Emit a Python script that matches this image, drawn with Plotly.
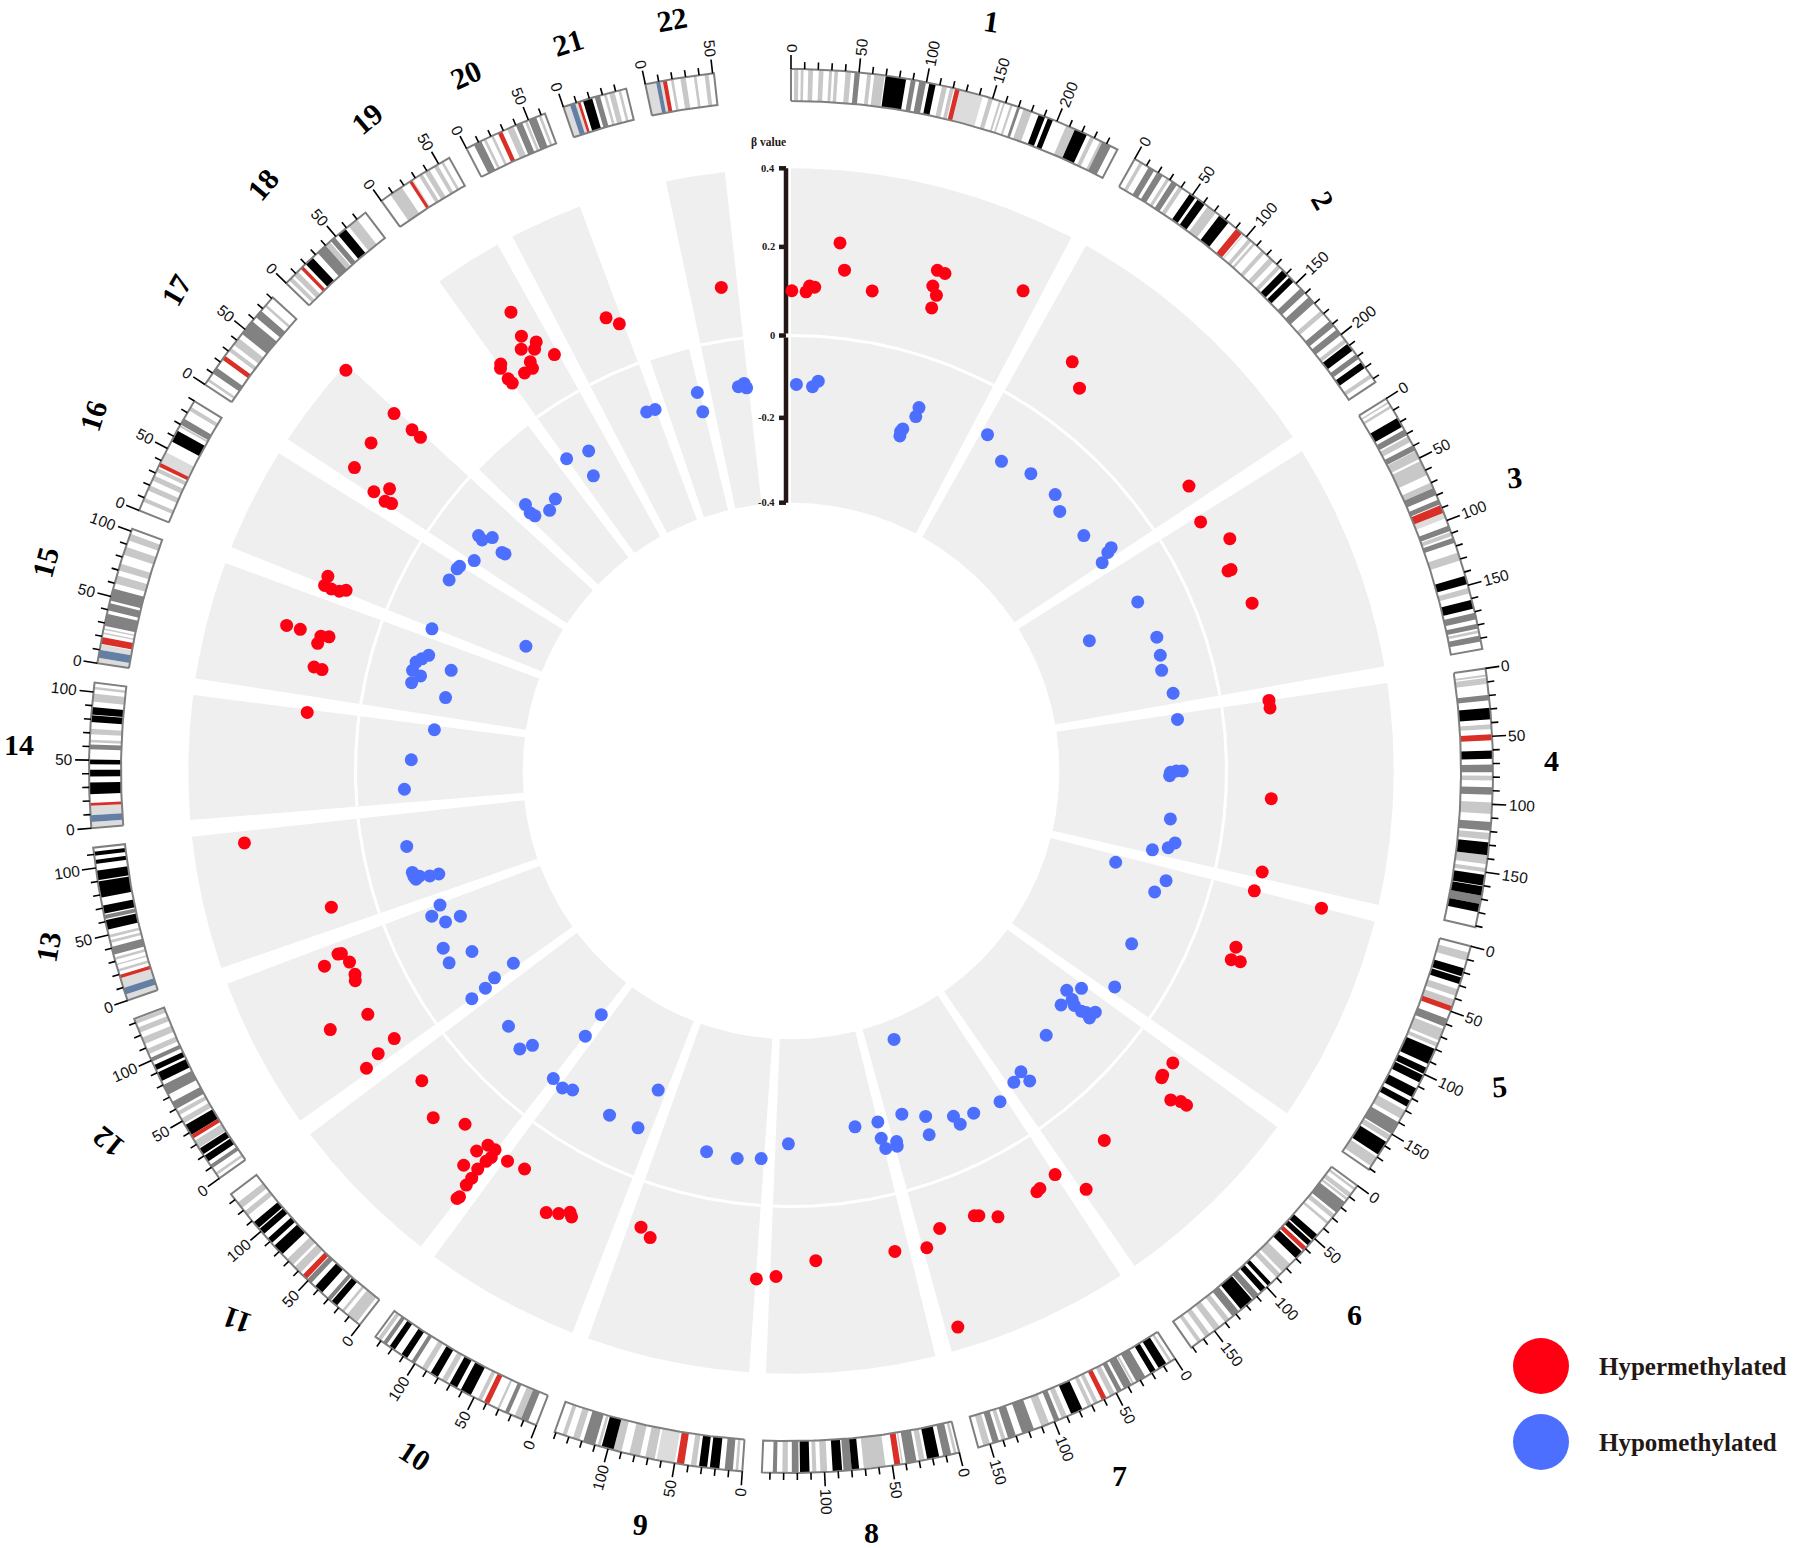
import numpy as np
import plotly.graph_objects as go

# chromosome lengths in Mb
chrom_names = [str(i) for i in range(1, 23)]
chrom_len = [249, 243, 198, 191, 181, 171, 159, 146, 141, 135, 135, 133, 115, 107, 102, 90, 81, 78, 59, 63, 48, 51]

# chromosome number labels: rotation, place on the ring (deg) and distance from the centre
chrom_label_angle = [8, 60, -5, 0, -4, 0, 0, 0, 5, 33, 200, 219, -80, 0, -75, -72, -60, -50, -40, -25, -17, -10]
chrom_label_theta = [15, 43, 67.9, 89.2, 114, 134, 155, 174, 191.3, 208.8, 225.2, 241.5, 256.7, 272, 285.6, 297, 308, 318, 327, 335, 343, 351]
chrom_label_r = [776, 780, 781, 761, 775, 783, 777, 766, 768, 781, 780, 777, 763, 772, 774, 783, 781, 789, 778, 768, 762, 761]

# cytobands (chromosome, start Mb, end Mb)
gpos100 = [
    (1, 69.7, 84.9), (1, 102.2, 107), (1, 185.8, 190.8), (1, 193, 197), (1, 214.5, 224.1),
    (2, 47.8, 52.9), (2, 55, 61.3), (2, 74.8, 83.3), (2, 136.1, 141.5), (2, 143.4, 147.9), (2, 208.2, 214.5), (2, 225, 230.1),
    (3, 16.4, 23.9), (3, 142.8, 149), (3, 161, 167.6),
    (4, 29, 37.5), (4, 60.5, 66.6), (4, 128, 137.5), (4, 152, 160), (4, 160.5, 167.5), (4, 173.6, 179.7),
    (5, 17, 23), (5, 24, 29), (5, 80, 92), (5, 95, 100), (5, 101, 107), (5, 112, 119), (5, 122, 127), (5, 157, 168),
    (6, 46.6, 51.8), (6, 53, 57), (6, 63.3, 70), (6, 95.5, 98.7), (6, 101, 105.5), (6, 114, 125),
    (7, 7.3, 13.8), (7, 16.5, 20.9), (7, 77.5, 86.4),
    (8, 15, 24), (8, 74.5, 80), (8, 87, 94), (8, 111, 118),
    (9, 17, 24), (9, 26, 32), (9, 96, 105),
    (10, 52.9, 61.2), (10, 64.5, 70.6), (10, 80.6, 86.6), (10, 107, 112), (10, 118, 122.5),
    (11, 22, 27), (11, 36.4, 43.4), (11, 77, 85.6), (11, 88.3, 92.8), (11, 97, 102), (11, 103, 108.5),
    (12, 14.8, 20), (12, 21.3, 26.3), (12, 38, 46.4), (12, 83, 90), (12, 92, 96),
    (13, 54, 61), (13, 66, 72), (13, 78, 90), (13, 91, 98), (13, 103, 106), (13, 109, 112),
    (14, 25, 33.5), (14, 38, 43), (14, 47, 50.5), (14, 78, 83), (14, 83.5, 89),
    (16, 56, 65),
    (18, 20, 27), (18, 52, 59),
    (21, 15, 22),
]
gpos75 = [
    (1, 46.8, 50.7), (1, 88.4, 92), (1, 94.7, 99.7), (1, 169.1, 171.2), (1, 236.6, 243.7),
    (2, 12, 16.7), (2, 19.2, 24), (2, 31.8, 36.3), (2, 154.9, 159.8), (2, 163.7, 169.7), (2, 187, 192), (2, 195, 200), (2, 218, 222),
    (3, 26.4, 30.9), (3, 39.4, 43.7), (3, 74.2, 79.8), (3, 83.5, 87.2), (3, 104, 108), (3, 113.5, 117.3), (3, 170.9, 175.7), (3, 179, 182.7), (3, 187.9, 192.3),
    (4, 19.5, 23.6), (4, 70.8, 76.4), (4, 87.5, 93), (4, 113, 119.4), (4, 167.5, 173.6),
    (5, 56, 62), (5, 140, 150),
    (6, 15.2, 25.2), (6, 127.1, 133), (6, 108, 113),
    (7, 25.5, 33), (7, 37.2, 43.3), (7, 45.4, 49), (7, 96, 100), (7, 116, 125), (7, 130, 136), (7, 143.1, 147.9),
    (8, 6, 12), (8, 32, 40), (8, 80, 86), (8, 119, 124), (8, 135, 138),
    (9, 7, 13), (9, 110, 119),
    (10, 6.6, 12.2), (10, 22, 25), (10, 100, 103), (10, 125, 128),
    (11, 28, 31), (11, 47, 51),
    (12, 9, 12), (12, 60, 66), (12, 72, 80), (12, 99, 102),
    (13, 35, 41), (13, 62, 65),
    (14, 58, 61.5),
    (15, 28, 37), (15, 39.5, 45), (15, 47, 56),
    (16, 70, 75),
    (17, 10, 15), (17, 46, 58), (17, 62, 68),
    (18, 32, 40), (18, 45, 49),
    (20, 6, 12), (20, 40, 45), (20, 50, 56),
    (21, 24, 28),
]
gpos50 = [
    (1, 2.3, 5.4), (1, 7.2, 9.2), (1, 12.7, 16.2), (1, 20.4, 23.9), (1, 28, 30.2), (1, 32, 34.6), (1, 40.1, 44.1), (1, 56.1, 59), (1, 61.3, 68.9),
    (1, 111.8, 115.5), (1, 117.8, 120.6), (1, 147, 150.3), (1, 155, 156.5), (1, 158.3, 159.7), (1, 163.8, 165.5), (1, 173.9, 180.3), (1, 207.5, 214.5), (1, 227, 230), (1, 234.7, 236.6),
    (2, 4.4, 7), (2, 27.4, 29.8), (2, 38.3, 41.5), (2, 63.9, 71.5), (2, 102.1, 105), (2, 106.7, 108.7), (2, 115.1, 118.1), (2, 122.9, 127), (2, 131, 134), (2, 177, 180.6), (2, 204, 207), (2, 236, 239),
    (3, 2.8, 4), (3, 6, 8), (3, 32.1, 36.5), (3, 44.1, 50.6), (3, 52.3, 54.4), (3, 54.4, 63.7), (3, 69.8, 74.2), (3, 109, 112), (3, 125, 131), (3, 152, 156), (3, 171, 172), (3, 184, 186),
    (4, 4.5, 6), (4, 7, 11.3), (4, 41.2, 44.6), (4, 78.9, 82.4), (4, 98.6, 107), (4, 121, 126), (4, 137.5, 144), (4, 147, 150),
    (5, 5, 11), (5, 33, 38), (5, 41, 46), (5, 64, 73), (5, 75, 78), (5, 130, 137), (5, 151, 155), (5, 170, 178),
    (6, 2.3, 4.2), (6, 7.1, 10.6), (6, 11.6, 13.4), (6, 27, 30.4), (6, 34, 36), (6, 75.9, 83.9), (6, 86, 90), (6, 136, 140), (6, 145, 150), (6, 154, 158), (6, 162, 165),
    (7, 3, 5), (7, 35, 36.5), (7, 51, 55), (7, 65, 68), (7, 70, 73), (7, 90, 94), (7, 104, 110), (7, 138, 141), (7, 150, 155),
    (8, 2, 4), (8, 26, 30), (8, 42, 43), (8, 55, 71), (8, 98, 103), (8, 106, 109), (8, 127, 131),
    (9, 3, 5), (9, 34, 38), (9, 65, 72), (9, 76, 84), (9, 90, 96), (9, 106, 108), (9, 122, 127), (9, 132, 135),
    (10, 12.2, 17.3), (10, 29.6, 31.3), (10, 44, 47), (10, 73, 77), (10, 90, 94), (10, 130, 133),
    (11, 3, 12), (11, 15, 17), (11, 58, 64), (11, 66, 72), (11, 115, 119), (11, 122, 127),
    (12, 3, 5), (12, 27, 33), (12, 48, 52), (12, 55, 58), (12, 105, 109), (12, 113, 118), (12, 122, 126), (12, 129, 132),
    (13, 22, 24), (13, 27, 28), (13, 31, 33), (13, 44, 46), (13, 48, 50),
    (14, 63, 65), (14, 69, 73), (14, 93, 99), (14, 102, 104),
    (15, 22, 23), (15, 25, 26), (15, 60, 66), (15, 70, 75), (15, 82, 88), (15, 93, 98),
    (16, 7, 10), (16, 16, 20), (16, 24, 28), (16, 31, 34), (16, 68, 69.5), (16, 82, 85),
    (17, 3, 5), (17, 30, 33), (17, 36, 42), (17, 72, 74),
    (18, 3, 6), (18, 8, 12), (18, 40, 44), (18, 62, 70),
    (19, 8, 18), (19, 33, 36), (19, 38, 42), (19, 46, 49), (19, 52, 54),
    (20, 14, 16), (20, 20, 22), (20, 33, 38), (20, 47, 49), (20, 58, 60),
    (21, 31, 33), (21, 35, 39), (21, 42, 44),
    (22, 19, 21), (22, 26, 30), (22, 36, 38), (22, 44, 47),
]
gvar = [
    (1, 125, 142.6), (2, 96.8, 98), (3, 93.9, 98.3), (9, 50, 63.5), (16, 38.2, 47), (19, 26.5, 28),
    (13, 0, 4.5), (13, 9.5, 17), (14, 0, 4.5), (14, 9.5, 16.5), (15, 0, 4), (15, 10, 14),
    (21, 0, 5), (21, 9, 11), (22, 0, 8), (22, 11, 13),
]
acen = [
    (1, 121.5, 125), (2, 90.5, 96), (3, 87.9, 93.9), (4, 48.6, 53), (5, 46, 50), (6, 58.7, 62), (7, 58, 61.7), (8, 44, 48.5),
    (9, 43, 48.5), (10, 38, 42), (11, 51.6, 55.7), (12, 35, 38), (13, 17, 19.5), (14, 16.5, 18.5), (15, 14.5, 19.5), (16, 35.3, 38.2),
    (17, 22.2, 25.8), (18, 15, 17.5), (19, 24.6, 27), (20, 25.6, 29), (21, 11, 13), (22, 13, 16),
]
stalk = [
    (13, 4.5, 9.5), (14, 4.5, 9.5), (15, 4, 10), (21, 5, 9), (22, 8, 11),
]

# methylation sites: angle around the ring (deg, clockwise from the top) and beta value
hyper_angle = [0.1, 1.8, 2.2, 2.8, 5.3, 6.1, 9.6, 16.3, 17.2, 16.3, 17.0, 16.9, 25.8,
               34.5, 37.0, 54.4, 58.7, 62.1, 65.4, 65.4, 70.0,
               81.6, 82.5, 93.3, 102.1, 104.5, 104.5, 111.6, 113.2, 113.0,
               127.4, 129.3, 129.6, 130.9, 130.3, 130.2, 139.7, 144.8,
               146.8, 149.2, 149.7, 155.1, 157.1, 157.6, 162.0, 164.1, 163.3,
               167.8, 177.1, 181.7, 183.9, 196.8, 198.2, 209.0, 207.7, 206.6, 206.2,
               230.0, 225.9, 222.7, 213.8, 216.0, 218.0, 219.0, 219.6, 217.8, 218.0, 218.2, 219.7, 218.1, 218.1, 217.9, 218.0,
               235.0, 235.6, 236.0, 240.1, 240.7, 244.3, 245.0, 246.6, 248.0, 247.9, 247.3,
               253.5, 262.5, 276.9, 286.1, 286.1, 285.1, 286.0, 286.2, 282.3, 282.2,
               292.8, 291.7, 291.6, 291.7, 292.1,
               303.8, 305.1, 303.6, 303.8, 304.8, 308.0, 312.0, 312.0, 312.0, 312.0,
               328.6, 328.2, 329.3, 328.7, 327.4, 330.4, 327.5, 327.3, 326.2, 324.5, 324.2, 324.2, 324.3,
               337.8, 339.0, 351.8]
hyper_beta = [.107, .105, .119, .117, .227, .163, .123, .206, .204, .167, .148, .116, .234,
              .146, .105, .129, .105, .146, .108, .116, .132,
              .114, .114, .109, .111, .103, .269, .103, .104, .126,
              .108, .107, .109, .160, .181, .197, .117, .183,
              .112, .121, .124, .134, .113, .109, .109, .144, .347,
              .134, .131, .168, .176, .124, .107, .166, .154, .139, .147,
              .111, .150, .108, .104, .112, .108, .110, .138, .128, .143, .170, .184, .196, .217, .249, .256,
              .198, .155, .103, .126, .222, .115, .109, .109, .127, .119, .168,
              .105, .277, .124, .214, .180, .131, .128, .109, .126, .106,
              .160, .159, .141, .121, .107,
              .159, .132, .124, .108, .230, .233, .236, .178, .151, .391,
              .244, .182, .152, .139, .156, .104, .119, .103, .104, .154, .146, .115, .101,
              .129, .104, .127]

hypo_angle = [0.8, 3.2, 4.0, 18.0, 17.9, 19.4, 19.4, 18.1,
              30.3, 34.2, 38.9, 43.7, 46.0, 51.2, 55.1, 55.4, 56.2,
              64.0, 66.4, 69.9, 72.6, 74.8, 78.5,
              82.4, 90.0, 90.0, 90.2, 90.7, 97.2, 100.6, 101.5, 102.3,
              105.7, 106.3, 108.4, 116.9, 123.7,
              128.5, 126.8, 129.1, 130.9, 129.6, 129.6, 129.3, 128.4, 129.6, 136.0, 142.6, 144.4, 142.4,
              147.7, 151.9, 154.4, 154.8, 158.7, 159.2, 162.1, 159.0, 164.2, 164.1,
              165.9, 166.2, 166.1, 169.8, 180.4, 184.4, 187.9, 192.5,
              202.6, 203.2, 207.8, 214.4, 215.8, 217.7, 217.9, 217.8,
              223.3, 224.3, 227.9, 235.3, 235.1, 234.6, 234.5,
              240.5, 240.7, 243.0, 246.4, 246.3, 248.0, 249.1,
              253.7, 253.8, 254.2, 254.4, 255.0, 253.9, 258.9,
              267.3, 271.7, 276.6, 282.0, 286.5, 283.1, 284.4, 284.9, 286.2, 286.9, 287.7,
              291.6, 295.2, 299.2, 301.2, 301.7,
              303.6, 307.2, 307.1, 308.0, 306.8, 307.0,
              319.1, 317.2, 314.9, 314.7, 315.1, 326.2, 324.3, 327.7,
              339.4, 338.1, 346.2, 346.1, 352.2, 353.1, 353.4]
hypo_beta = [-.117, -.121, -.107, -.199, -.188, -.143, -.120, -.181,
             -.110, -.146, -.128, -.127, -.148, -.143, -.108, -.121, -.146,
             -.119, -.263, -.110, -.116, -.123, -.109,
             -.109, -.106, -.120, -.134, -.136, -.127, -.107, -.121, -.157,
             -.235, -.107, -.125, -.128, -.111,
             -.199, -.174, -.175, -.187, -.162, -.140, -.130, -.113, -.115, -.163, -.136, -.126, -.106,
             -.106, -.114, -.105, -.129, -.155, -.111, -.179, -.354, -.109, -.120,
             -.111, -.137, -.177, -.177, -.150, -.112, -.106, -.109,
             -.215, -.113, -.111, -.117, -.107, -.112, -.303, -.239,
             -.140, -.113, -.131, -.234, -.177, -.145, -.104,
             -.165, -.104, -.108, -.140, -.178, -.115, -.143,
             -.164, -.142, -.118, -.105, -.104, -.108, -.105,
             -.116, -.133, -.183, -.197, -.194, -.110, -.127, -.105, -.108, -.119, -.132,
             -.118, -.341, -.105, -.108, -.110,
             -.132, -.183, -.175, -.135, -.119, -.106,
             -.181, -.192, -.177, -.164, -.142, -.192, -.122, -.136,
             -.118, -.116, -.157, -.109, -.114, -.108, -.119]

# the printed axis is not quite linear, 0.2 sits a little high
axis_ticks = [0.4, 0.212, 0, -0.197, -0.4]
axis_labels = ["0.4", "0.2", "0", "-0.2", "-0.4"]

# ring geometry, pixels from the centre
DEG_PER_MB = 0.1113
GAP = 1.6
R_ZERO = 435.5
R_PER_BETA = 418
R_IDEO_IN = 670
R_IDEO_OUT = 702
RED = "#ff0013"
BLUE = "#4d6fff"
SERIF = "Liberation Serif"
SANS = "Liberation Sans"

starts = []
a = 0
for n in chrom_len:
    starts.append(a)
    a += n * DEG_PER_MB + GAP
ends = [s + n * DEG_PER_MB for s, n in zip(starts, chrom_len)]


def to_xy(theta, r):
    t = np.radians(theta)
    return r * np.sin(t), r * np.cos(t)


def beta_r(beta):
    return R_ZERO + np.asarray(beta) * R_PER_BETA


def mb_angle(chrom, mb):
    return starts[chrom - 1] + mb * DEG_PER_MB


def wedge(t0, t1, r0, r1):
    t = np.linspace(t0, t1, max(3, int((t1 - t0) * 3) + 2))
    x0, y0 = to_xy(t, r0)
    x1, y1 = to_xy(t[::-1], r1)
    return list(x0) + list(x1) + [x0[0], None], list(y0) + list(y1) + [y0[0], None]


def wedges(items):
    xs, ys = [], []
    for t0, t1, r0, r1 in items:
        x, y = wedge(t0, t1, r0, r1)
        xs += x
        ys += y
    return xs, ys


fig = go.Figure()

# grey sectors, the upper half only where a chromosome has hypermethylated sites
items = []
for s, e in zip(starts, ends):
    has_hyper = any(s <= v <= e for v in hyper_angle)
    items.append((s, e, beta_r(-0.4), beta_r(0.4 if has_hyper else 0)))
x, y = wedges(items)
fig.add_trace(go.Scatter(x=x, y=y, mode="lines", fill="toself", fillcolor="#efefef", line=dict(width=0), hoverinfo="skip"))

# white zero ring
xs, ys = [], []
for s, e in zip(starts, ends):
    t = np.linspace(s, e, int((e - s) * 3) + 2)
    px, py = to_xy(t, beta_r(0))
    xs += list(px) + [None]
    ys += list(py) + [None]
fig.add_trace(go.Scatter(x=xs, y=ys, mode="lines", line=dict(color="white", width=3), hoverinfo="skip"))

# ideogram bands
for bands, col in [(gvar, "#dcdcdc"), (gpos50, "#c8c8c8"), (gpos75, "#828282"), (gpos100, "#000000"),
                   (acen, "#d92f27"), (stalk, "#647fa4")]:
    x, y = wedges([(mb_angle(c, b0), mb_angle(c, b1), R_IDEO_IN, R_IDEO_OUT) for c, b0, b1 in bands])
    fig.add_trace(go.Scatter(x=x, y=y, mode="lines", fill="toself", fillcolor=col, line=dict(width=0), hoverinfo="skip"))

# ideogram outlines
x, y = wedges([(s, e, R_IDEO_IN, R_IDEO_OUT) for s, e in zip(starts, ends)])
fig.add_trace(go.Scatter(x=x, y=y, mode="lines", line=dict(color="#7f7f7f", width=2), hoverinfo="skip"))

# scale ticks and labels
annos = []
tx, ty = [], []
for i, n in enumerate(chrom_len):
    for mb in range(0, n + 1, 10):
        t = mb_angle(i + 1, mb)
        major = mb % 50 == 0
        x0, y0 = to_xy(t, R_IDEO_OUT)
        x1, y1 = to_xy(t, R_IDEO_OUT + (14 if major else 7))
        tx += [x0, x1, None]
        ty += [y0, y1, None]
        if major:
            lx, ly = to_xy(t, R_IDEO_OUT + 16 + 4.5 * len(str(mb)))
            annos.append(dict(x=lx, y=ly, text=str(mb), showarrow=False, textangle=t - 90 if t < 180 else t - 270,
                              font=dict(family=SANS, size=15.5, color="#111111")))
    lx, ly = to_xy(chrom_label_theta[i], chrom_label_r[i])
    annos.append(dict(x=lx, y=ly, text="<b>%s</b>" % chrom_names[i], showarrow=False, textangle=chrom_label_angle[i],
                      font=dict(family=SERIF, size=30, color="#000000")))
fig.add_trace(go.Scatter(x=tx, y=ty, mode="lines", line=dict(color="#000000", width=1.6), hoverinfo="skip"))

# beta axis
AX = -5
ax_x, ax_y = [AX, AX, None, AX, AX, None], [beta_r(0.4), beta_r(0.005), None, beta_r(-0.005), beta_r(-0.4), None]
for v, lab in zip(axis_ticks, axis_labels):
    ax_x += [AX - 7, AX, None]
    ax_y += [beta_r(v), beta_r(v), None]
    annos.append(dict(x=AX - 9, y=float(beta_r(v)), text="<b>%s</b>" % lab, showarrow=False, xanchor="right",
                      font=dict(family=SERIF, size=10.5, color="#231815")))
fig.add_trace(go.Scatter(x=ax_x, y=ax_y, mode="lines", line=dict(color="#231815", width=4.5), hoverinfo="skip"))
annos.append(dict(x=-23, y=629, text="<b>β value</b>", showarrow=False, font=dict(family=SERIF, size=11.5, color="#231815")))

# points
x, y = to_xy(np.array(hyper_angle), beta_r(hyper_beta))
fig.add_trace(go.Scatter(x=x, y=y, mode="markers", name="Hypermethylated", marker=dict(color=RED, size=13)))
x, y = to_xy(np.array(hypo_angle), beta_r(hypo_beta))
fig.add_trace(go.Scatter(x=x, y=y, mode="markers", name="Hypomethylated", marker=dict(color=BLUE, size=13)))

# legend
shapes = []
for cy, col, lab in [(595, RED, "Hypermethylated"), (671, BLUE, "Hypomethylated")]:
    shapes.append(dict(type="circle", x0=722, x1=778, y0=-cy - 28, y1=-cy + 28, fillcolor=col, line=dict(width=0), layer="above"))
    annos.append(dict(x=806, y=-cy, text="<b>%s</b>" % lab, showarrow=False, xanchor="left",
                      font=dict(family=SERIF, size=25, color="#231815")))

fig.update_layout(
    width=1793, height=1548, margin=dict(l=0, r=0, t=0, b=0),
    plot_bgcolor="white", paper_bgcolor="white", showlegend=False,
    xaxis=dict(range=[-791, 1002], visible=False),
    yaxis=dict(range=[-777, 771], visible=False),
    annotations=annos, shapes=shapes,
)

# the default body margin would clip the labels at the page edge
fig.write_html("out.html", config={"displayModeBar": False}, post_script="document.body.style.margin='0';")
